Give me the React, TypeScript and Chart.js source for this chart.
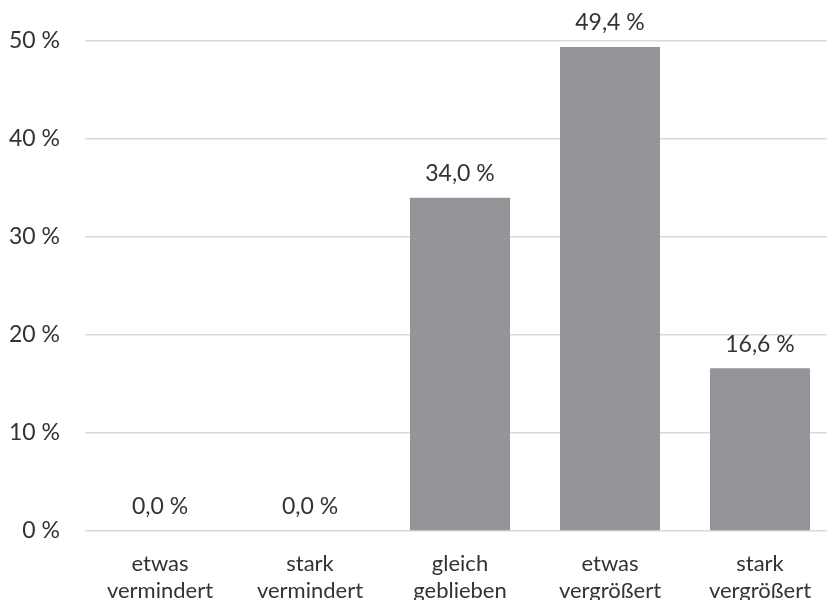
import React, { useEffect, useRef } from "react";
import { Chart, registerables } from "chart.js";

Chart.register(...registerables);

const categories: string[][] = [
  ["etwas", "vermindert"],
  ["stark", "vermindert"],
  ["gleich", "geblieben"],
  ["etwas", "vergrößert"],
  ["stark", "vergrößert"],
];
const shares: number[] = [0.0, 0.0, 34.0, 49.4, 16.6];
const yTicks: number[] = [0, 10, 20, 30, 40, 50];

const FONT = "Lato, 'Noto Sans', sans-serif";
const TEXT = "#333333";

const fmt = (v: number) => v.toFixed(1).replace(".", ",") + " %";

const labelPlugin = {
  id: "barValueLabels",
  afterDatasetsDraw(chart: any) {
    const ctx = chart.ctx;
    const meta = chart.getDatasetMeta(0);
    ctx.save();
    ctx.font = `23px ${FONT}`;
    ctx.fillStyle = TEXT;
    ctx.textAlign = "center";
    ctx.textBaseline = "middle";
    meta.data.forEach((bar: any, i: number) => {
      ctx.fillText(fmt(shares[i]), bar.x, bar.y - 24);
    });
    ctx.restore();
  },
};

export default function App() {
  const ref = useRef<HTMLCanvasElement | null>(null);
  useEffect(() => {
    if (!ref.current) return;
    const chart = new Chart(ref.current, {
      type: "bar",
      data: {
        labels: categories,
        datasets: [
          {
            data: shares,
            backgroundColor: "#939598",
            barPercentage: 1,
            categoryPercentage: 2 / 3,
          },
        ],
      },
      options: {
        animation: false,
        responsive: true,
        maintainAspectRatio: false,
        layout: { padding: { top: 41, right: 0, left: 0, bottom: 0 } },
        plugins: { legend: { display: false }, tooltip: { enabled: false } },
        scales: {
          x: {
            grid: { display: false },
            border: { display: false },
            ticks: {
              color: TEXT,
              font: { family: FONT, size: 22, lineHeight: 1.23 },
              padding: 11,
              maxRotation: 0,
              autoSkip: false,
            },
            afterFit: (s: any) => {
              s.height = 69;
            },
          },
          y: {
            min: 0,
            max: 50,
            afterBuildTicks: (s: any) => {
              s.ticks = yTicks.map((v) => ({ value: v }));
            },
            grid: { color: "#d9d9d9", lineWidth: 1.5, drawTicks: false },
            border: { display: false },
            ticks: {
              color: TEXT,
              font: { family: FONT, size: 23 },
              padding: 25,
              callback: (v: any) => v + " %",
            },
            afterFit: (s: any) => {
              s.width = 85;
            },
          },
        },
      },
      plugins: [labelPlugin],
    });
    return () => chart.destroy();
  }, []);
  return (
    <div
      style={{
        position: "fixed",
        left: 0,
        top: 0,
        width: 827,
        height: 600,
        overflow: "hidden",
        background: "#fff",
      }}
    >
      <div style={{ position: "relative", width: 835, height: 600 }}>
        <canvas ref={ref} />
      </div>
    </div>
  );
}
